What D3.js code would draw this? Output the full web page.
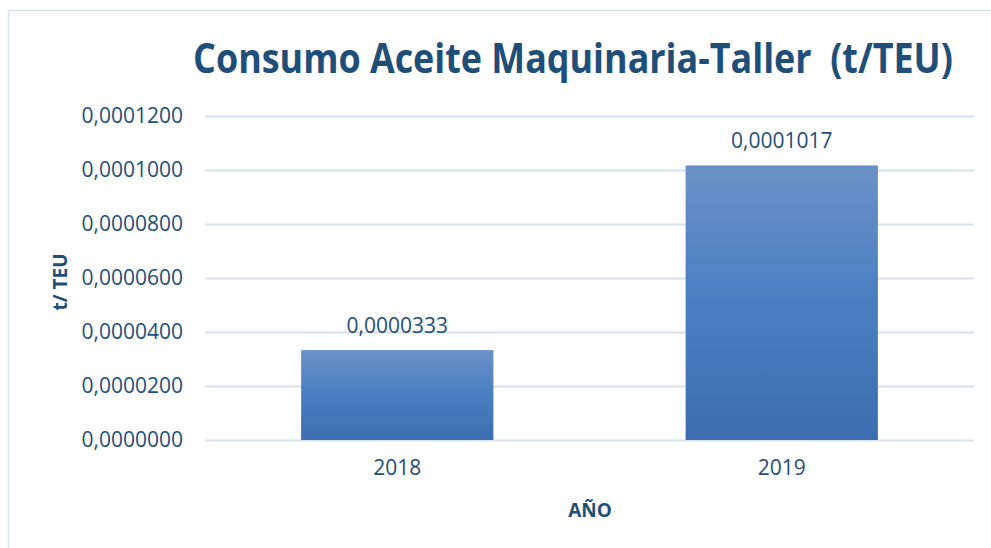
<!DOCTYPE html>
<html>
<head>
<meta charset="utf-8">
<script src="https://cdn.jsdelivr.net/npm/d3@7"></script>
<style>
  body { margin: 0; background: #fff; }
  text { font-family: "Open Sans", sans-serif; fill: #1f4e79; }
</style>
</head>
<body>
<script>
const width = 991;
const height = 548;

// data
const years = ['2018', '2019'];
const values = [0.0000333, 0.0001017];
const yTicks = [0, 0.00002, 0.00004, 0.00006, 0.00008, 0.0001, 0.00012];

const margin = { top: 116, right: 17, bottom: 108, left: 205 };

const svg = d3.select('body').append('svg')
    .attr('width', width)
    .attr('height', height);

// chart frame
svg.append('rect')
    .attr('x', 8.5).attr('y', 10.5)
    .attr('width', width + 20).attr('height', height + 20)
    .attr('fill', 'none')
    .attr('stroke', '#d9e4f2')
    .attr('stroke-width', 1.5);

const es = d3.formatLocale({ decimal: ',', thousands: '.', grouping: [3], currency: ['', '€'] });
const fmt = es.format('.7f');

const x = d3.scaleBand()
    .domain(years)
    .range([margin.left, width - margin.right])
    .paddingInner(0.5)
    .paddingOuter(0.25);

const y = d3.scaleLinear()
    .domain([0, 0.00012])
    .range([height - margin.bottom, margin.top]);

// gradient for the bars
const grad = svg.append('defs').append('linearGradient')
    .attr('id', 'barGrad')
    .attr('x1', 0).attr('y1', 0).attr('x2', 0).attr('y2', 1);
grad.append('stop').attr('offset', '0%').attr('stop-color', '#6a91c7');
grad.append('stop').attr('offset', '50%').attr('stop-color', '#4a7fc1');
grad.append('stop').attr('offset', '100%').attr('stop-color', '#3c6dae');

// y axis (gridlines + labels)
const yAxis = svg.append('g')
    .attr('transform', `translate(${margin.left},0)`)
    .call(d3.axisLeft(y)
        .tickValues(yTicks)
        .tickFormat(fmt)
        .tickSize(-(width - margin.left - margin.right))
        .tickPadding(22));
yAxis.select('.domain').remove();
yAxis.selectAll('.tick line')
    .attr('stroke', '#d6e2f2')
    .attr('stroke-width', 2);
yAxis.selectAll('.tick text')
    .attr('font-size', 21)
    .style('font-family', '"Open Sans", sans-serif')
    .attr('fill', '#1f4e79');

// bars
svg.selectAll('.bar')
    .data(years)
    .enter()
    .append('rect')
    .attr('class', 'bar')
    .attr('x', d => x(d))
    .attr('y', (d, i) => y(values[i]))
    .attr('width', x.bandwidth())
    .attr('height', (d, i) => y(0) - y(values[i]))
    .attr('fill', 'url(#barGrad)');

// value labels
svg.selectAll('.val')
    .data(years)
    .enter()
    .append('text')
    .attr('class', 'val')
    .attr('x', d => x(d) + x.bandwidth() / 2)
    .attr('y', (d, i) => y(values[i]) - 17)
    .attr('text-anchor', 'middle')
    .attr('font-size', 21)
    .text((d, i) => fmt(values[i]));

// x axis labels
const xAxis = svg.append('g')
    .attr('transform', `translate(0,${height - margin.bottom})`)
    .call(d3.axisBottom(x).tickSize(0).tickPadding(20));
xAxis.select('.domain').remove();
xAxis.selectAll('.tick text')
    .attr('font-size', 21)
    .style('font-family', '"Open Sans", sans-serif')
    .attr('fill', '#1f4e79');

// title, squeezed horizontally to the reference width
const title = svg.append('text')
    .attr('text-anchor', 'middle')
    .attr('font-size', 41)
    .attr('font-weight', 'bold')
    .style('white-space', 'pre')
    .text('Consumo Aceite Maquinaria-Taller  (t/TEU)');
const tw = title.node().getComputedTextLength();
const sx = Math.min(1, 760 / tw);
title.attr('transform', `translate(573,73) scale(${sx},1)`);

svg.append('text')
    .attr('x', 590)
    .attr('y', 517)
    .attr('text-anchor', 'middle')
    .attr('font-size', 19)
    .attr('font-weight', 'bold')
    .text('AÑO');

svg.append('text')
    .attr('transform', 'translate(67,282) rotate(-90)')
    .attr('text-anchor', 'middle')
    .attr('font-size', 19)
    .attr('font-weight', 'bold')
    .text('t/ TEU');
</script>
</body>
</html>
